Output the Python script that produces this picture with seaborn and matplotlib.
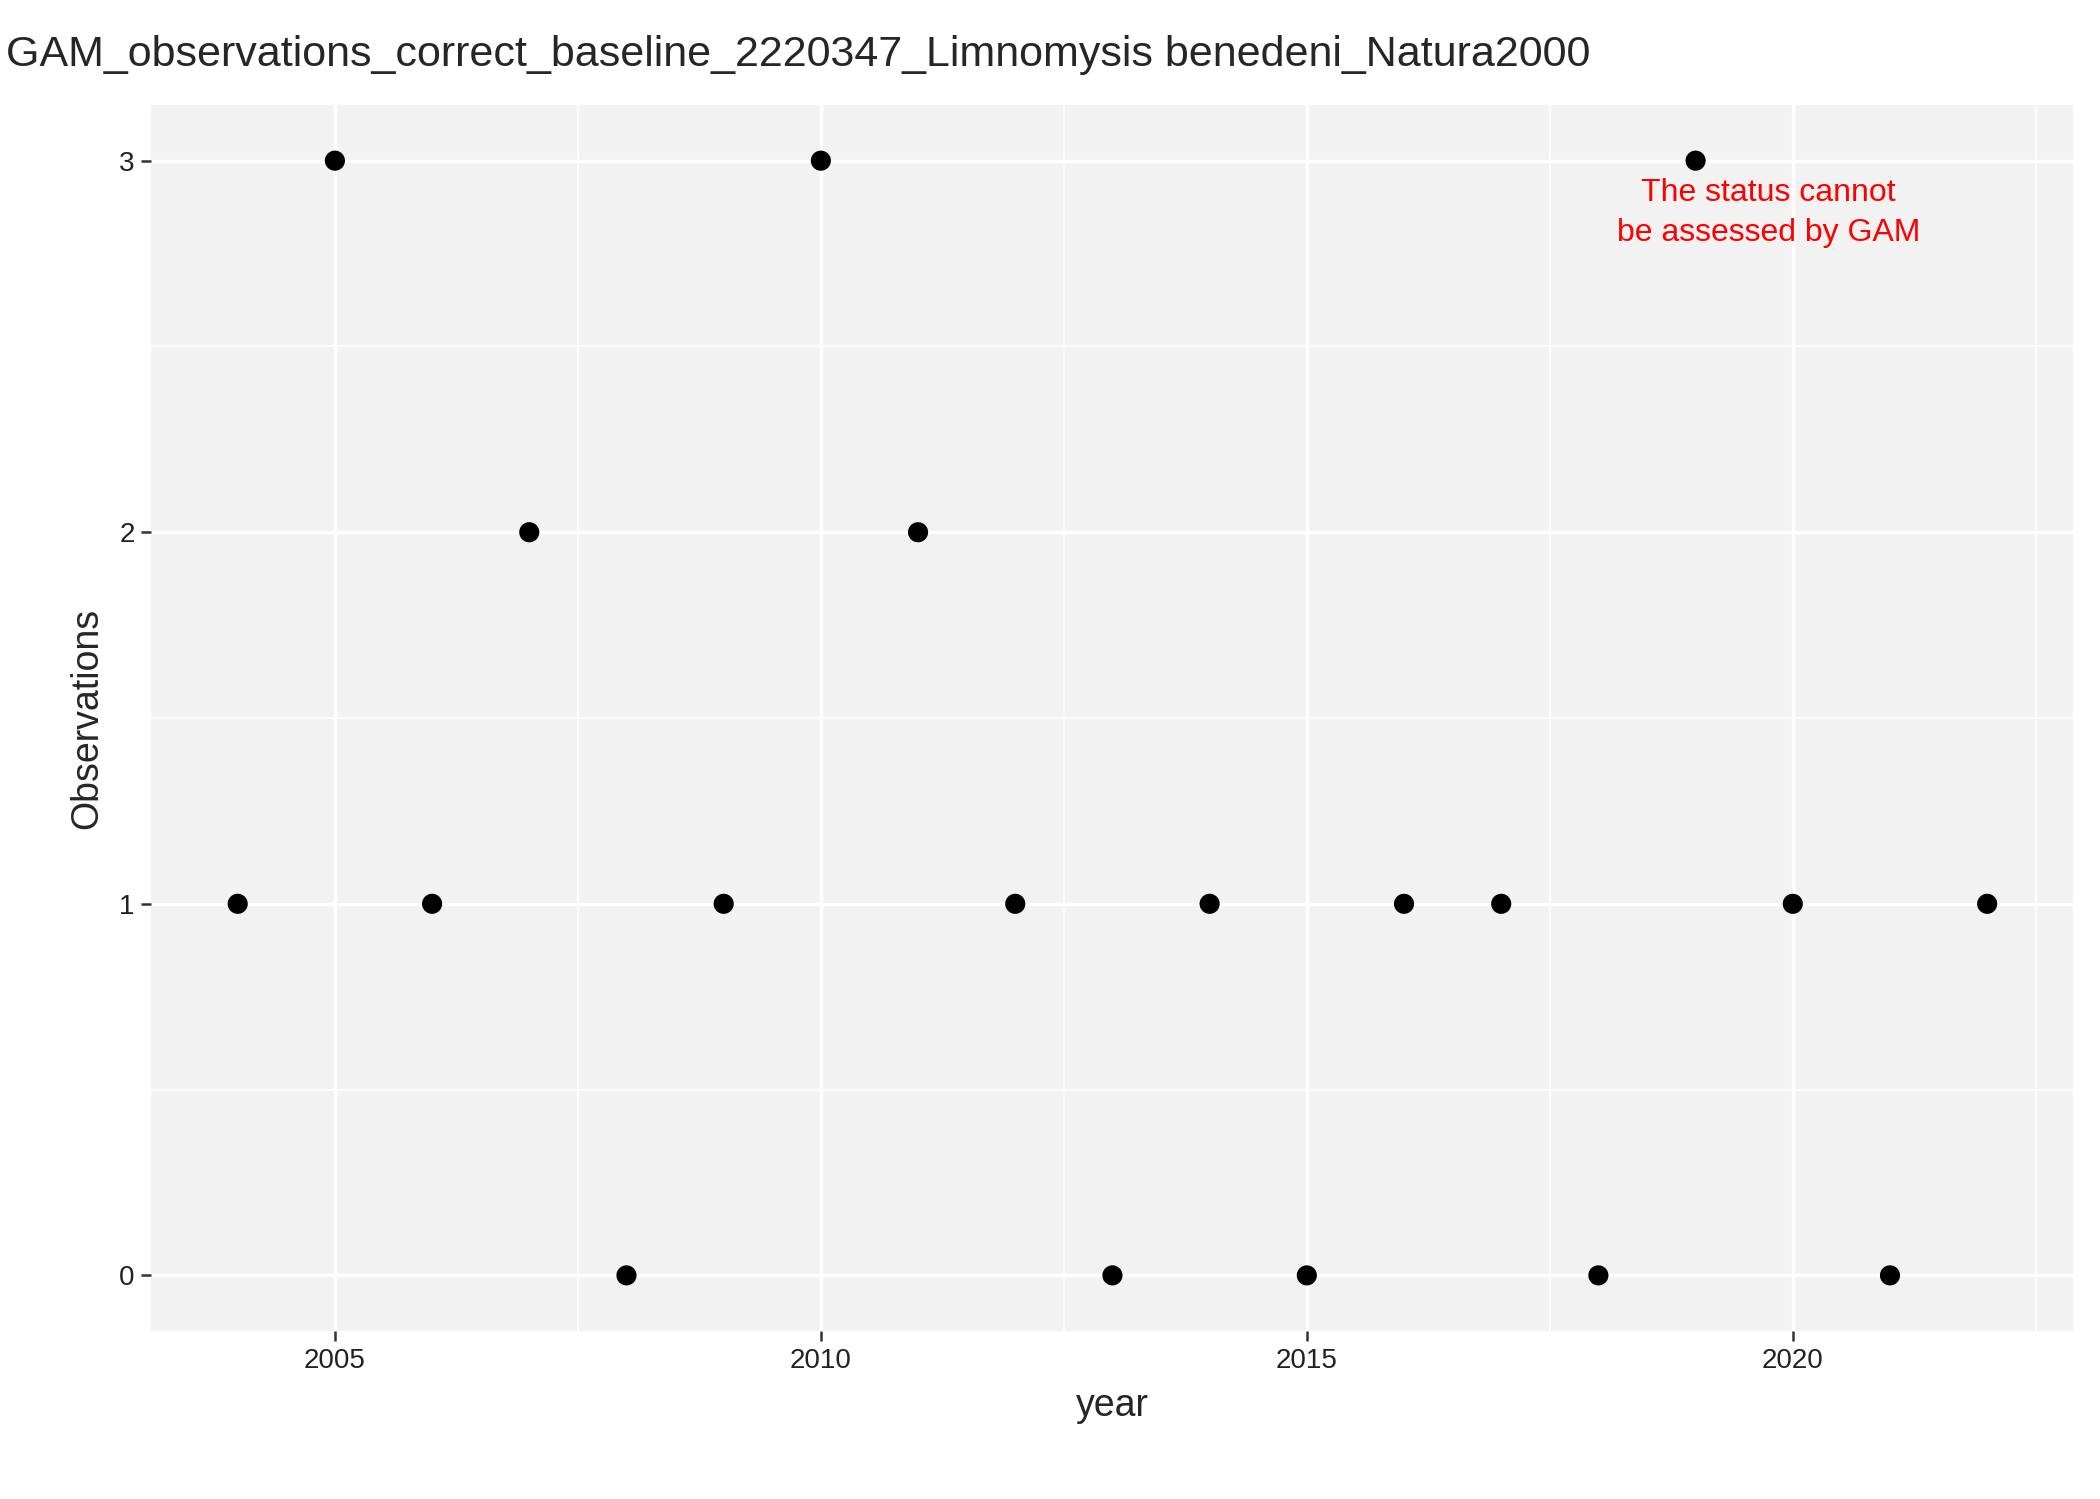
import matplotlib
matplotlib.use('Agg')
import matplotlib.pyplot as plt
import numpy as np
import pandas as pd
import seaborn as sns

years = [2004, 2005, 2006, 2007, 2008, 2009, 2010, 2011, 2012, 2013,
         2014, 2015, 2016, 2017, 2018, 2019, 2020, 2021, 2022]
observations = [1, 3, 1, 2, 0, 1, 3, 2, 1, 0, 1, 0, 1, 1, 0, 3, 1, 0, 1]
title = "GAM_observations_correct_baseline_2220347_Limnomysis benedeni_Natura2000"
note = "The status cannot\nbe assessed by GAM"

df = pd.DataFrame({"year": years, "Observations": observations})

sns.set_theme(style="white")
plt.rcParams['font.family'] = ['Liberation Sans', 'DejaVu Sans']

fig = plt.figure(figsize=(21, 14.99), dpi=100)
ax = fig.add_axes([0.072, 0.112, 0.915, 0.818])
ax.set_facecolor("#F2F2F2")

ax.set_xticks([2007.5, 2012.5, 2017.5, 2022.5], minor=True)
ax.set_yticks([0.5, 1.5, 2.5], minor=True)
ax.grid(which="major", color="white", linewidth=2.4)
ax.grid(which="minor", color="white", linewidth=1.2)
ax.set_axisbelow(True)

sns.scatterplot(data=df, x="year", y="Observations", ax=ax, color="black",
                s=210, edgecolor="none", zorder=3)

ax.set_xlim(2003.11, 2022.88)
ax.set_ylim(-0.15, 3.15)
ax.set_xticks([2005, 2010, 2015, 2020])
ax.set_yticks([0, 1, 2, 3])
for s in ax.spines.values():
    s.set_visible(False)
ax.tick_params(axis="both", which="major", length=7, width=1.8, color="#333333",
               labelsize=20, labelcolor="#222222", bottom=True, left=True, pad=5)
ax.tick_params(which="minor", length=0)
ax.set_xlabel("year", fontsize=27, labelpad=10)
ax.set_ylabel("Observations", fontsize=27, labelpad=10)

ax.text(2019.75, 2.86, note, color="red", fontsize=23, ha="center", va="center",
        linespacing=1.45, zorder=4)

fig.text(0.003, 0.963, title, fontsize=31, ha="left", va="center")

fig.savefig("out.png", dpi=100)
